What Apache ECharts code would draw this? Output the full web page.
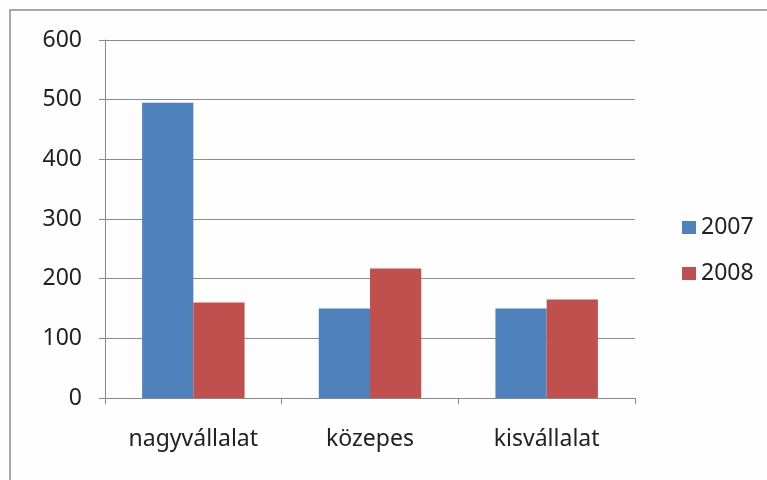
<!DOCTYPE html>
<html>
<head>
<meta charset="utf-8">
<script src="https://cdn.jsdelivr.net/npm/echarts@6/dist/echarts.min.js"></script>
<style>
  html, body { margin: 0; padding: 0; background: #fff; }
  #chart { width: 767px; height: 480px; }
</style>
</head>
<body>
<div id="chart"></div>
<script>
// 类目与数据
const categories = ['nagyvállalat', 'közepes', 'kisvállalat']
const series2007 = [495, 150, 150]
const series2008 = [160, 217, 165]
const yTicks = [0, 100, 200, 300, 400, 500, 600]

const FONT = '"Noto Sans", sans-serif'
const axisGray = '#888888'
const FONT_SIZE = 23

const chartInstance = echarts.init(document.getElementById('chart'))

const option = {
  backgroundColor: '#fefefe',
  animation: false,
  textStyle: {fontFamily: FONT},
  graphic: [{
    type: 'rect',
    shape: {x: 10, y: 10, width: 820, height: 520},
    style: {fill: 'none', stroke: '#8a8a8a', lineWidth: 1.5},
    silent: true
  }],
  grid: {left: 105, top: 40, right: 132, bottom: 82},
  legend: {
    orient: 'vertical',
    left: 677,
    top: 211,
    itemWidth: 14,
    itemHeight: 13,
    itemGap: 23,
    icon: 'rect',
    textStyle: {fontSize: FONT_SIZE, color: '#222', fontFamily: FONT}
  },
  xAxis: {
    type: 'category',
    data: categories,
    axisLine: {lineStyle: {color: axisGray, width: 1}},
    axisTick: {show: true, length: 6, lineStyle: {color: axisGray}},
    axisLabel: {fontSize: FONT_SIZE, color: '#222', margin: 30, fontFamily: FONT}
  },
  yAxis: {
    type: 'value',
    min: yTicks[0],
    max: yTicks[yTicks.length - 1],
    interval: 100,
    axisLine: {show: true, lineStyle: {color: axisGray, width: 1}},
    axisTick: {show: true, length: 6, lineStyle: {color: axisGray}},
    axisLabel: {fontSize: FONT_SIZE, color: '#222', margin: 23, fontFamily: FONT},
    splitLine: {show: true, lineStyle: {color: '#8c8c8c', width: 1}}
  },
  series: [
    {
      name: '2007',
      type: 'bar',
      data: series2007,
      barGap: '0%',
      barCategoryGap: '42%',
      itemStyle: {color: '#4f81bd'}
    },
    {
      name: '2008',
      type: 'bar',
      data: series2008,
      barGap: '0%',
      barCategoryGap: '42%',
      itemStyle: {color: '#c0504d'}
    }
  ]
}

chartInstance.setOption(option)
</script>
</body>
</html>
